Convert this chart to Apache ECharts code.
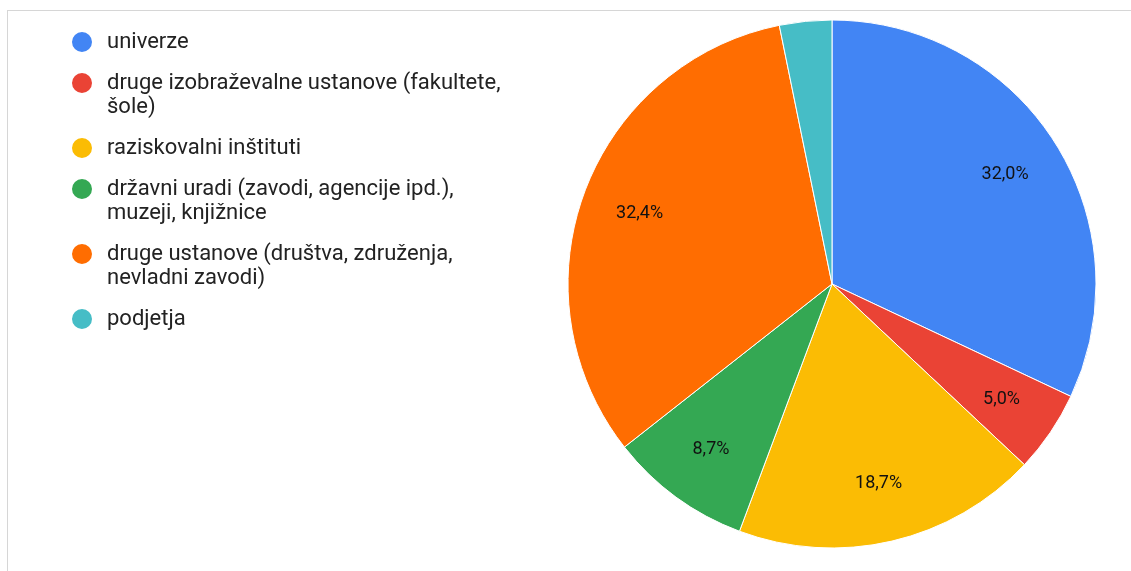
<!DOCTYPE html>
<html>
<head>
<meta charset="utf-8">
<script src="https://cdn.jsdelivr.net/npm/echarts@6/dist/echarts.min.js"></script>
<style>
  html, body { margin: 0; padding: 0; background: #fff; }
  #frame {
    position: absolute; left: 7px; top: 10px; width: 1200px; height: 600px;
    border-left: 1px solid #d6d6d6; border-top: 1px solid #d6d6d6;
  }
  #chart { position: absolute; left: 0; top: 0; width: 1131px; height: 571px; }
</style>
</head>
<body>
<div id="frame"></div>
<div id="chart"></div>
<script>
// podatki
const categories = [
  'univerze',
  'druge izobraževalne ustanove (fakultete, šole)',
  'raziskovalni inštituti',
  'državni uradi (zavodi, agencije ipd.), muzeji, knjižnice',
  'druge ustanove (društva, združenja, nevladni zavodi)',
  'podjetja'
]
const shares = [32.0, 5.0, 18.7, 8.7, 32.4, 3.2]
// legend text split into lines as in the original
const legendLines = [
  ['univerze'],
  ['druge izobraževalne ustanove (fakultete,', 'šole)'],
  ['raziskovalni inštituti'],
  ['državni uradi (zavodi, agencije ipd.),', 'muzeji, knjižnice'],
  ['druge ustanove (društva, združenja,', 'nevladni zavodi)'],
  ['podjetja']
]
const colors = ['#4285f4', '#ea4335', '#fbbc04', '#34a853', '#ff6d01', '#46bdc6']

// legend icon centre (y) for each entry
const legendY = [42, 83, 148, 189, 254, 319]

const chart = echarts.init(document.getElementById('chart'))

const pieData = categories.map((name, i) => ({ name, value: shares[i] }))

const legends = categories.map((name, i) => {
  const twoLines = legendLines[i].length > 1
  return {
    data: [name],
    orient: 'vertical',
    left: 70,
    top: legendY[i] - (twoLines ? 36 : 12),
    padding: 0,
    icon: 'circle',
    itemWidth: 22,
    itemHeight: 22,
    selectedMode: false,
    // empty first line keeps the icon level with the first text line
    formatter: () => (twoLines ? '\n' : '') + legendLines[i].join('\n'),
    textStyle: {
      fontFamily: 'Roboto, Arial, sans-serif',
      fontSize: 22,
      lineHeight: 24,
      color: '#222',
      padding: [0, 0, 0, 9]
    }
  }
})

const center = [832, 284]
const outerR = 264

chart.setOption({
  color: colors,
  animation: false,
  legend: legends,
  series: [
    {
      type: 'pie',
      center,
      radius: [0, outerR],
      startAngle: 90,
      clockwise: true,
      data: pieData,
      itemStyle: { borderColor: '#fff', borderWidth: 1 },
      label: { show: false },
      labelLine: { show: false },
      silent: true
    },
    // transparent ring only to place the labels further out
    {
      type: 'pie',
      center,
      radius: [140, outerR],
      startAngle: 90,
      clockwise: true,
      data: pieData,
      itemStyle: { color: 'rgba(0,0,0,0)', borderWidth: 0 },
      label: {
        show: true,
        position: 'inside',
        fontFamily: 'Roboto, Arial, sans-serif',
        fontSize: 18,
        color: '#111',
        formatter: p => p.value < 4 ? '' : p.value.toFixed(1).replace('.', ',') + '%'
      },
      labelLine: { show: false },
      silent: true
    }
  ]
})
</script>
</body>
</html>
